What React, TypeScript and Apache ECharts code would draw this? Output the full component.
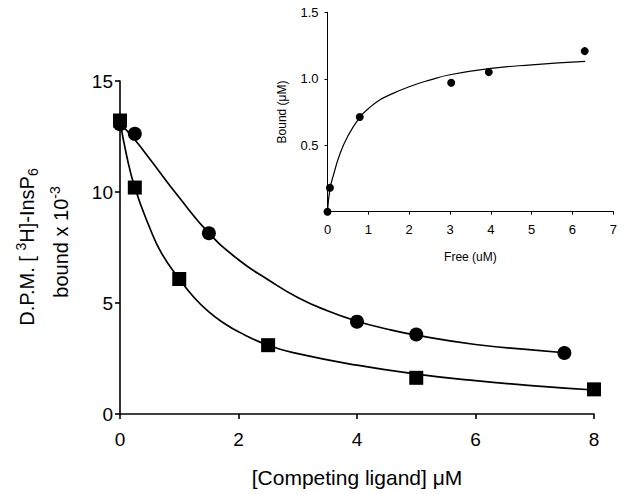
import React, { useEffect, useRef } from "react";
import * as echarts from "echarts";

// Main plot: measured points
const circleX = [0, 0.25, 1.5, 4, 5, 7.5];
const circleY = [13.05, 12.62, 8.14, 4.16, 3.58, 2.75];
const squareX = [0, 0.25, 1, 2.5, 5, 8];
const squareY = [13.22, 10.2, 6.08, 3.1, 1.63, 1.11];

// Main plot: fitted curves
const circleCurveX = [0, 0.25, 0.5, 1, 1.5, 2, 2.5, 3, 3.5, 4, 4.5, 5, 6, 7, 7.5];
const circleCurveY = [13.1, 12.35, 11.5, 9.75, 8.15, 6.95, 6.05, 5.25, 4.65, 4.18, 3.83, 3.55, 3.13, 2.88, 2.76];
const squareCurveX = [0, 0.107, 0.25, 0.5, 0.7, 1, 1.25, 1.5, 1.75, 2, 2.5, 3, 4, 5, 6, 7, 8];
const squareCurveY = [13.2, 11.7, 10.2, 8.4, 7.25, 6.08, 5.25, 4.6, 4.1, 3.7, 3.1, 2.72, 2.2, 1.8, 1.5, 1.27, 1.08];

// Inset: saturation binding
const insetX = [0, 0.06, 0.79, 3.03, 3.95, 6.3];
const insetY = [0.0, 0.18, 0.712, 0.97, 1.05, 1.208];
const insetCurveX = [0, 0.06, 0.15, 0.3, 0.5, 0.79, 1.0, 1.25, 1.5, 2, 2.5, 3, 4, 5, 6.31];
const insetCurveY = [0, 0.17, 0.28, 0.43, 0.57, 0.71, 0.775, 0.835, 0.875, 0.94, 0.99, 1.03, 1.078, 1.105, 1.131];

const FONT = "Liberation Sans, Arial, sans-serif";

const pairs = (xs: number[], ys: number[]) => xs.map((x, i) => [x, ys[i]]);

export default function App() {
  const ref = useRef<HTMLDivElement>(null);
  useEffect(() => {
    document.body.style.margin = "0";
    if (!ref.current) return;
    const chart = echarts.init(ref.current, undefined, { renderer: "svg" });
    const black = "#000";
    const axisCommon = (w: number) => ({
      axisLine: { show: true, lineStyle: { color: black, width: w } },
      axisTick: { show: true, inside: false, length: 5, lineStyle: { color: black, width: w } },
      splitLine: { show: false },
    });
    chart.setOption({
      animation: false,
      backgroundColor: "#fff",
      grid: [
        { left: 120, top: 81, width: 474, height: 333 },
        { left: 327.5, top: 12.3, width: 285.8, height: 199.4 },
      ],
      xAxis: [
        {
          type: "value", gridIndex: 0, min: 0, max: 8, interval: 2,
          ...axisCommon(1.6),
          axisLabel: { color: black, fontSize: 19, fontFamily: FONT, margin: 16 },
          name: "[Competing ligand] \u03bcM", nameLocation: "middle", nameGap: 53,
          nameTextStyle: { color: black, fontSize: 21, fontFamily: FONT },
        },
        {
          type: "value", gridIndex: 1, min: 0, max: 7, interval: 1,
          ...axisCommon(1),
          axisTick: { show: true, length: 3, lineStyle: { color: black, width: 1 } },
          axisLabel: { color: black, fontSize: 13, fontFamily: FONT, margin: 11 },
          name: "Free (uM)", nameLocation: "middle", nameGap: 39,
          nameTextStyle: { color: black, fontSize: 12, fontFamily: FONT },
        },
      ],
      yAxis: [
        {
          type: "value", gridIndex: 0, min: 0, max: 15, interval: 5,
          ...axisCommon(1.6),
          axisLabel: { color: black, fontSize: 19, fontFamily: FONT, margin: 7 },
        },
        {
          type: "value", gridIndex: 1, min: 0, max: 1.5, interval: 0.5,
          ...axisCommon(1),
          axisTick: { show: true, length: 3, lineStyle: { color: black, width: 1 } },
          axisLabel: {
            color: black, fontSize: 13, fontFamily: FONT, margin: 9, showMinLabel: false,
            formatter: (v: number) => (v === 0 ? "" : v.toFixed(1)),
          },
          name: "Bound (\u03bcM)", nameLocation: "middle", nameGap: 40, nameRotate: 90,
          nameTextStyle: { color: black, fontSize: 12, fontFamily: FONT },
        },
      ],
      series: [
        {
          type: "line", xAxisIndex: 0, yAxisIndex: 0, data: pairs(circleCurveX, circleCurveY),
          smooth: 0.5, showSymbol: false, lineStyle: { color: black, width: 1.7 }, silent: true,
        },
        {
          type: "line", xAxisIndex: 0, yAxisIndex: 0, data: pairs(squareCurveX, squareCurveY),
          smooth: 0.5, showSymbol: false, lineStyle: { color: black, width: 1.7 }, silent: true,
        },
        {
          type: "scatter", xAxisIndex: 0, yAxisIndex: 0, data: pairs(circleX, circleY),
          symbol: "circle", symbolSize: 14, itemStyle: { color: black, opacity: 1 },
        },
        {
          type: "scatter", xAxisIndex: 0, yAxisIndex: 0, data: pairs(squareX, squareY),
          symbol: "rect", symbolSize: 14, itemStyle: { color: black, opacity: 1 },
        },
        {
          type: "line", xAxisIndex: 1, yAxisIndex: 1, data: pairs(insetCurveX, insetCurveY),
          smooth: 0.5, showSymbol: false, lineStyle: { color: black, width: 1.2 }, silent: true,
        },
        {
          type: "scatter", xAxisIndex: 1, yAxisIndex: 1, data: pairs(insetX, insetY),
          symbol: "circle", symbolSize: 8, itemStyle: { color: black, opacity: 1 },
        },
      ],
      graphic: [
        {
          type: "text", x: 27, y: 247, rotation: Math.PI / 2,
          style: {
            text: "{a|D.P.M. [ }{sup|3}{a|H]-InsP}{sub|6}",
            align: "center", verticalAlign: "middle", fill: black,
            rich: {
              a: { fontSize: 20, fontFamily: FONT, fill: black, lineHeight: 26, verticalAlign: "middle" },
              sup: { fontSize: 14, fontFamily: FONT, fill: black, verticalAlign: "top", lineHeight: 14 },
              sub: { fontSize: 14, fontFamily: FONT, fill: black, verticalAlign: "bottom", lineHeight: 14 },
            },
          },
        },
        {
          type: "text", x: 61, y: 242, rotation: Math.PI / 2,
          style: {
            text: "{a|bound x 10}{sup|-3}",
            align: "center", verticalAlign: "middle", fill: black,
            rich: {
              a: { fontSize: 20, fontFamily: FONT, fill: black, lineHeight: 26, verticalAlign: "middle" },
              sup: { fontSize: 14, fontFamily: FONT, fill: black, verticalAlign: "top", lineHeight: 14 },
            },
          },
        },
      ],
    });
    return () => chart.dispose();
  }, []);
  return <div ref={ref} style={{ width: 624, height: 494 }} />;
}
